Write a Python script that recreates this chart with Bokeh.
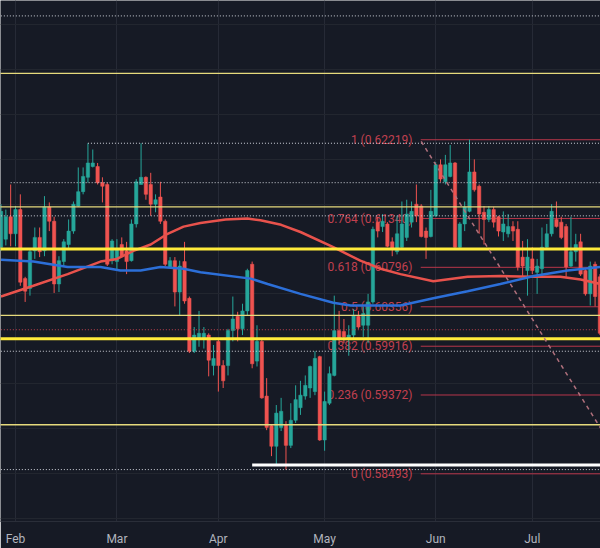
from bokeh.plotting import figure
from bokeh.models import Range1d, FixedTicker, ColumnDataSource
from bokeh.core.properties import value
from bokeh.embed import file_html
from bokeh.resources import INLINE

# ---- candles (daily, trading-day index 0 = 29 Jan) ----
opens = [
    .6102, .6111, .6136, .6117, .6144, .6067, .6056, .6098, .6113, .6098,
    .6147, .6131, .6061, .6086, .6105, .6120, .6148, .6164, .6180, .6192,
    .6192, .6174, .6172, .6087, .6086, .6105, .6098, .6087, .6128, .6172,
    .6180, .6172, .6150, .6158, .6131, .6080, .6087, .6052, .6086, .6045,
    .5986, .6000, .6000, .6004, .5970, .5997, .5970, .5970, .6009, .6025,
    .6011, .6031, .6083, .5975, .5997, .5936, .5903, .5880, .5901, .5904,
    .5881, .5909, .5923, .5936, .5945, .5941, .5980, .5887, .5928, .5959,
    .6009, .6008, .6000, .6004, .6025, .6015, .6015, .6041, .6130, .6125,
    .6128, .6108, .6097, .6102, .6113, .6130, .6150, .6148, .6120, .6114,
    .6137, .6194, .6175, .6181, .6196, .6102, .6128, .6142, .6186, .6170,
    .6141, .6133, .6144, .6136, .6119, .6117, .6125, .6122, .6091, .6076,
    .6089, .6074, .6078, .6102, .6117, .6133, .6130, .6125, .6081, .6097,
    .6108, .6076, .6050, .6083, .6069]
highs = [
    .6150, .6144, .6172, .6148, .6161, .6069, .6100, .6124, .6124, .6159,
    .6152, .6136, .6092, .6111, .6133, .6153, .6191, .6191, .6218, .6211,
    .6196, .6180, .6174, .6111, .6111, .6113, .6108, .6133, .6178, .6218,
    .6181, .6185, .6161, .6175, .6133, .6091, .6091, .6087, .6108, .6047,
    .6013, .6031, .6013, .6006, .5993, .6000, .5976, .6011, .6047, .6030,
    .6039, .6078, .6086, .6015, .5999, .5956, .5904, .5926, .5934, .5908,
    .5928, .5948, .5953, .5959, .5970, .5986, .5981, .5941, .5969, .6048,
    .6031, .6022, .6015, .6033, .6031, .6036, .6050, .6125, .6136, .6139,
    .6130, .6113, .6137, .6153, .6155, .6153, .6172, .6150, .6124, .6166,
    .6197, .6200, .6205, .6216, .6197, .6130, .6153, .6222, .6200, .6172,
    .6148, .6148, .6147, .6137, .6142, .6139, .6131, .6131, .6109, .6111,
    .6102, .6089, .6124, .6128, .6150, .6153, .6136, .6128, .6136, .6117,
    .6117, .6078, .6086, .6086, .6072]
lows = [
    .6098, .6104, .6103, .6103, .6059, .6041, .6048, .6089, .6091, .6092,
    .6120, .6051, .6052, .6080, .6100, .6117, .6147, .6161, .6174, .6191,
    .6172, .6152, .6081, .6083, .6076, .6091, .6072, .6086, .6124, .6172,
    .6155, .6137, .6141, .6128, .6081, .6080, .6036, .6026, .6039, .5984,
    .5984, .5991, .5989, .5958, .5959, .5941, .5945, .5959, .5997, .5997,
    .6004, .6026, .5967, .5969, .5933, .5898, .5869, .5859, .5897, .5854,
    .5878, .5906, .5915, .5932, .5934, .5937, .5886, .5875, .5926, .5958,
    .5993, .5995, .5981, .6000, .6011, .6002, .5995, .6039, .6113, .6119,
    .6102, .6092, .6094, .6100, .6109, .6124, .6130, .6113, .6089, .6113,
    .6136, .6175, .6172, .6180, .6100, .6100, .6120, .6141, .6164, .6117,
    .6105, .6130, .6124, .6114, .6109, .6113, .6109, .6076, .6070, .6048,
    .6072, .6050, .6070, .6100, .6114, .6124, .6111, .6069, .6080, .6086,
    .6070, .6048, .6037, .6036, .6004]
closes = [
    .6142, .6136, .6117, .6144, .6063, .6053, .6097, .6113, .6097, .6147,
    .6131, .6061, .6087, .6108, .6120, .6150, .6164, .6181, .6196, .6196,
    .6174, .6170, .6083, .6109, .6100, .6092, .6086, .6128, .6175, .6180,
    .6161, .6150, .6155, .6131, .6083, .6087, .6052, .6081, .6042, .5986,
    .6004, .6006, .6006, .5976, .5978, .5970, .5953, .6009, .6022, .6011,
    .6031, .6076, .5972, .5997, .5934, .5901, .5880, .5917, .5919, .5881,
    .5909, .5932, .5937, .5948, .5969, .5978, .5887, .5930, .5961, .6009,
    .6000, .6002, .6004, .6026, .6013, .6028, .6041, .6122, .6120, .6131,
    .6103, .6100, .6117, .6128, .6139, .6142, .6137, .6114, .6113, .6142,
    .6194, .6178, .6194, .6196, .6102, .6128, .6147, .6186, .6166, .6139,
    .6133, .6144, .6130, .6120, .6128, .6125, .6120, .6080, .6081, .6091,
    .6076, .6081, .6102, .6117, .6142, .6125, .6113, .6080, .6097, .6105,
    .6072, .6050, .6081, .6047, .6006]

# ---- moving averages (sampled along the curve) ----
ma_red_x = [0, 6.7, 13.8, 20.6, 24, 27.4, 31, 34.5, 37.8, 41.3, 46.5, 51, 53.7, 58, 62,
            68.8, 74.4, 78.6, 82.7, 89.5, 96.6, 103.4, 110.3, 115.8, 120, 124.1]
ma_red_y = [.6047, .6059, .6072, .6086, .6089, .6098, .6105, .6117, .6125, .6129, .6133, .6134,
            .6132, .6127, .6119, .6102, .6087, .6078, .6072, .6064, .6069, .6070, .6069, .6069,
            .6066, .6061]
ma_blue_x = [0, 6.7, 13.8, 20.6, 24.7, 28.9, 33, 37.8, 41.3, 51.7, 55.2, 62, 68.8, 72.4, 82.7,
             89.5, 96.6, 103.4, 110.3, 117.3, 124.1]
ma_blue_y = [.6088, .6086, .6080, .6080, .6076, .6076, .6080, .6078, .6074, .6067, .6061, .6050,
             .6040, .6037, .6037, .6045, .6053, .6061, .6070, .6076, .6080]

# ---- axis ticks ----
month_idx = [3, 24, 45, 67, 90, 110]
month_labels = ["Feb", "Mar", "Apr", "May", "Jun", "Jul"]
grid_prices = [0.580, 0.585, 0.590, 0.595, 0.600, 0.605, 0.610, 0.615, 0.620, 0.625, 0.630, 0.635]

# ---- drawn levels ----
yellow_thin = [0.6296, 0.6147, 0.6026, 0.5904]
yellow_thick = [0.6100, 0.6000]
white_dotted_full = [0.6360, 0.6137, 0.5986, 0.5854]
white_dotted_part_start = [18, 2]
white_dotted_part = [0.6218, 0.6174]
red_dotted = [0.6010]
white_solid_start = [52]
white_solid = [0.5859]
fib_ratios = ["1", "0.764", "0.618", "0.5", "0.382", "0.236", "0"]
fib_prices = [0.62219, 0.61340, 0.60796, 0.60356, 0.59916, 0.59372, 0.58493]
fib_start = 86.9
trend_x = [87, 128]
trend_y = [0.6220, 0.5867]

BG = "#161a25"
UP = "#26a69a"
DN = "#ef5350"

p = figure(width=600, height=548, x_range=Range1d(-0.1035, 124.12),
           y_range=Range1d(0.57961, 0.63772), output_backend="svg", toolbar_location=None,
           min_border=0, min_border_bottom=24, background_fill_color=BG,
           border_fill_color=BG)
p.outline_line_color = None
p.yaxis.visible = False
p.xaxis.ticker = FixedTicker(ticks=month_idx)
p.xaxis.major_label_overrides = {i: l for i, l in zip(month_idx, month_labels)}
p.xaxis.axis_line_color = "#2a2e39"
p.xaxis.major_tick_line_color = None
p.xaxis.minor_tick_line_color = None
p.xaxis.major_label_text_color = "#b2b5be"
p.xaxis.major_label_text_font = "Roboto"
p.xaxis.major_label_text_font_size = "12px"
p.xaxis.major_label_standoff = 4
p.xgrid.grid_line_color = "#262a36"
p.ygrid.ticker = FixedTicker(ticks=grid_prices)
p.ygrid.grid_line_color = "#22262f"

n = len(opens)
idx = list(range(n))
colors = [UP if c >= o else DN for o, c in zip(opens, closes)]
src = ColumnDataSource(dict(x=idx, o=opens, h=highs, l=lows, c=closes,
                            top=[max(o, c) for o, c in zip(opens, closes)],
                            bot=[min(o, c) for o, c in zip(opens, closes)],
                            col=colors))

# fib retracement (behind candles)
XL, XR = -5, 130
p.segment(x0=[fib_start] * len(fib_prices), x1=[XR] * len(fib_prices), y0=fib_prices,
          y1=fib_prices, line_color="#b8364a", line_width=1)
p.text(x=[85.2] * len(fib_prices), y=fib_prices,
       text=[f"{r} ({v:.5f})" for r, v in zip(fib_ratios, fib_prices)],
       text_align="right", text_baseline="middle", text_font=value("Roboto"),
       text_font_size="12px", text_color="#c0404f")

# candles
p.segment(x0="x", x1="x", y0="l", y1="h", line_color="col", line_width=1, source=src)
p.vbar(x="x", width=0.7, top="top", bottom="bot", fill_color="col", line_color="col",
       line_width=0.5, source=src)

# moving averages
p.line(ma_red_x, ma_red_y, line_color="#e8524c", line_width=2.5)
p.line(ma_blue_x, ma_blue_y, line_color="#2c6fd8", line_width=2.5)

# horizontal levels
p.segment(x0=[XL] * len(yellow_thin), x1=[XR] * len(yellow_thin), y0=yellow_thin,
          y1=yellow_thin, line_color="#e6da7c", line_width=1.3)
p.segment(x0=[XL] * len(yellow_thick), x1=[XR] * len(yellow_thick), y0=yellow_thick,
          y1=yellow_thick, line_color="#ffeb3b", line_width=3)
p.segment(x0=[XL] * len(white_dotted_full), x1=[XR] * len(white_dotted_full),
          y0=white_dotted_full, y1=white_dotted_full, line_color="#d1d4dc",
          line_width=1, line_dash="1 2")
p.segment(x0=white_dotted_part_start, x1=[XR] * len(white_dotted_part),
          y0=white_dotted_part, y1=white_dotted_part, line_color="#d1d4dc",
          line_width=1, line_dash="1 2")
p.segment(x0=[XL], x1=[XR], y0=red_dotted, y1=red_dotted, line_color="#c0404f",
          line_width=1, line_dash="1 2")
p.segment(x0=white_solid_start, x1=[XR], y0=white_solid, y1=white_solid,
          line_color="#ffffff", line_width=3)

# trend line
p.line(trend_x, trend_y, line_color="#b0707c", line_width=1.5, line_dash="4 4")

open("out.html", "w").write(file_html(p, INLINE))
